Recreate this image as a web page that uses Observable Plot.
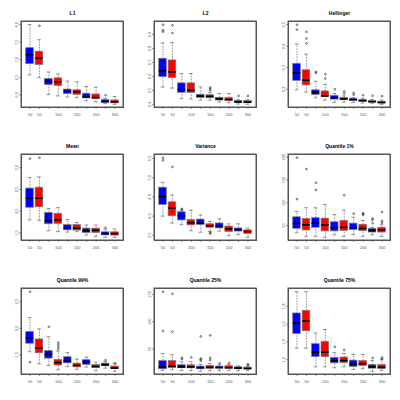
<!DOCTYPE html>
<html><head><meta charset="utf-8">
<script src="https://cdn.jsdelivr.net/npm/d3@7"></script>
<script src="https://cdn.jsdelivr.net/npm/@observablehq/plot@0.6"></script>
<style>
html,body{margin:0;padding:0;background:#fff;}
#grid{display:grid;grid-template-columns:repeat(3,133.333px);grid-template-rows:repeat(3,133.333px);width:400px;height:400px;}
#grid svg{display:block;}
</style></head><body><div id="grid"></div>
<script>
// x categories (sample sizes), two series each
const xLabels = ["50","50","100","100","150","150","200","200","300","300"];
const xShown  = [true,true,false,true,false,true,false,true,false,true];
const seriesOf = [0,1,0,1,0,1,0,1,0,1];
const seriesColors = ["#0000ff","#ff0000"];

// five-number summaries per box: [lower whisker, Q1, median, Q3, upper whisker]
const l1Stats = [[6.57,6.875,7.14,7.33,8.0],[6.49,6.85,7.05,7.23,7.57],[6.01,6.28,6.38,6.45,6.65],[5.97,6.25,6.37,6.47,6.59],[5.94,6.02,6.10,6.15,6.39],[5.92,6.00,6.09,6.13,6.37],[5.83,5.90,5.94,6.03,6.24],[5.80,5.88,5.92,6.01,6.22],[5.75,5.77,5.81,5.85,5.90],[5.73,5.76,5.80,5.84,5.95]];
const l1Out = [[1,7.97],[8,5.99]];
const l1Ticks = [6.0,6.5,7.0,7.5,8.0];

const l2Stats = [[0.523,0.595,0.64,0.726,0.84],[0.516,0.588,0.632,0.714,0.842],[0.44,0.482,0.506,0.55,0.62],[0.438,0.482,0.50,0.55,0.62],[0.43,0.446,0.458,0.468,0.525],[0.43,0.444,0.456,0.465,0.485],[0.417,0.427,0.44,0.446,0.477],[0.412,0.425,0.434,0.444,0.477],[0.402,0.41,0.417,0.425,0.432],[0.40,0.408,0.415,0.424,0.432]];
const l2Out = [[0,0.97],[0,0.93],[0,0.92],[1,0.965],[1,0.91],[5,0.52],[5,0.51],[5,0.50],[8,0.46],[9,0.46]];
const l2Ticks = [0.4,0.5,0.6,0.7,0.8,0.9];

const helStats = [[0.197,0.239,0.276,0.318,0.41],[0.187,0.218,0.242,0.288,0.363],[0.16,0.173,0.186,0.195,0.237],[0.149,0.164,0.169,0.19,0.223],[0.139,0.152,0.161,0.169,0.18],[0.14,0.149,0.155,0.16,0.169],[0.138,0.145,0.152,0.156,0.161],[0.136,0.142,0.147,0.15,0.158],[0.135,0.139,0.142,0.145,0.152],[0.13,0.135,0.138,0.142,0.149]];
const helOut = [[0,0.5],[0,0.477],[1,0.467],[1,0.436],[1,0.413],[2,0.281],[2,0.276],[3,0.27],[3,0.25],[4,0.2],[5,0.19],[5,0.18],[6,0.183],[6,0.175],[7,0.172],[8,0.17],[9,0.168]];
const helTicks = [0.2,0.3,0.4,0.5];

const meanStats = [[1.80,2.08,2.30,2.52,2.775],[1.79,2.09,2.30,2.54,2.79],[1.55,1.70,1.78,1.96,2.06],[1.53,1.71,1.80,1.94,2.08],[1.52,1.56,1.62,1.68,1.81],[1.53,1.555,1.61,1.68,1.74],[1.45,1.50,1.55,1.60,1.68],[1.42,1.50,1.56,1.60,1.68],[1.40,1.445,1.485,1.515,1.585],[1.40,1.44,1.485,1.515,1.59]];
const meanOut = [[0,3.21],[1,3.23],[8,1.62]];
const meanTicks = [1.5,2.0,2.5,3.0];

const varStats = [[4.0,4.29,4.51,4.74,4.88],[3.82,4.0,4.21,4.36,4.55],[3.78,3.89,4.01,4.10,4.14],[3.62,3.76,3.83,3.90,4.15],[3.58,3.77,3.82,3.91,4.03],[3.60,3.70,3.75,3.79,3.86],[3.61,3.68,3.74,3.81,3.93],[3.49,3.59,3.67,3.73,3.80],[3.52,3.60,3.65,3.68,3.80],[3.45,3.54,3.60,3.63,3.69]];
const varOut = [[0,5.52],[0,5.45],[1,5.28],[2,4.19],[2,4.17],[5,3.57],[5,3.55]];
const varTicks = [3.5,4.0,4.5,5.0,5.5];

const q1Stats = [[34,42.7,54.5,68,81],[26,39,51.5,64,89],[26,45,55,66,89],[24,37,51,65,96],[29.5,37,45,57,74],[26,38,46,60,84],[30,40,45,54,68],[26,37.5,43.5,51.5,61],[29.5,34.5,39,42.7,46],[26,34.5,40.5,45,51.5]];
const q1Out = [[0,199],[0,108],[1,174],[2,144],[2,128],[5,116.5],[6,76],[7,77],[7,75.5],[7,73],[8,65],[8,62.6],[8,55],[9,79.6],[9,60],[9,56]];
const q1Ticks = [50,100,150,200];

const q99Stats = [[1.56,1.71,1.82,1.93,2.20],[1.33,1.53,1.63,1.79,1.99],[1.30,1.43,1.51,1.57,1.84],[1.22,1.30,1.355,1.405,1.57],[1.28,1.34,1.38,1.455,1.54],[1.23,1.265,1.30,1.335,1.42],[1.27,1.31,1.37,1.40,1.455],[1.20,1.25,1.28,1.31,1.36],[1.25,1.29,1.31,1.335,1.37],[1.19,1.235,1.25,1.28,1.335]];
const q99Out = [[0,2.69],[0,1.36],[2,2.03],[3,1.73],[3,1.69],[3,1.65],[3,1.61],[8,1.40],[9,1.34]];
const q99Ticks = [1.5,2.0,2.5];

const q25Stats = [[11,13,17.3,28,42],[12,15,18.6,28,39.5],[10.6,15,17.3,20.4,26.6],[10.6,14.7,17.3,20.4,26.6],[9.3,13,16,18,22],[10.6,13.6,16.7,19,23.5],[10.6,14.5,16,18,21],[10.6,13.6,16,18.6,21.6],[10.6,13,15,16.7,19.2],[10.6,12.6,14.5,16,18.6]];
const q25Out = [[0,155],[0,83],[1,151],[1,82],[2,34],[2,31.5],[3,34.6],[4,73],[4,32.7],[4,31],[4,28.4],[5,75],[5,34],[5,30],[6,24],[7,24.7],[9,22.3],[9,20.4]];
const q25Ticks = [50,100,150];

const q75Stats = [[1.33,1.49,1.61,1.72,1.965],[1.33,1.52,1.635,1.75,1.965],[1.12,1.23,1.285,1.375,1.50],[1.12,1.23,1.285,1.40,1.54],[1.11,1.16,1.19,1.22,1.28],[1.12,1.165,1.19,1.225,1.27],[1.09,1.12,1.15,1.19,1.26],[1.10,1.13,1.155,1.185,1.26],[1.07,1.10,1.12,1.14,1.19],[1.08,1.095,1.115,1.14,1.20]];
const q75Out = [[4,1.345],[5,1.31],[8,1.22],[9,1.225],[9,1.21]];
const q75Ticks = [1.2,1.4,1.6,1.8];

const titles = ["L1","L2","Hellinger","Mean","Variance","Quantile 1%","Quantile 99%","Quantile 25%","Quantile 75%"];
const panels = [
  {stats:l1Stats,out:l1Out,ticks:l1Ticks,fmt:".1f"},
  {stats:l2Stats,out:l2Out,ticks:l2Ticks,fmt:".1f"},
  {stats:helStats,out:helOut,ticks:helTicks,fmt:".1f"},
  {stats:meanStats,out:meanOut,ticks:meanTicks,fmt:".1f"},
  {stats:varStats,out:varOut,ticks:varTicks,fmt:".1f"},
  {stats:q1Stats,out:q1Out,ticks:q1Ticks,fmt:"d"},
  {stats:q99Stats,out:q99Out,ticks:q99Ticks,fmt:".1f"},
  {stats:q25Stats,out:q25Out,ticks:q25Ticks,fmt:"d"},
  {stats:q75Stats,out:q75Out,ticks:q75Ticks,fmt:".1f"}
];

const FONT = "'Liberation Sans', Arial, Helvetica, sans-serif";
const W = 133, H = 133, ML = 21, MR = 10, MT = 21, MB = 26;
const FW = W - ML - MR, FH = H - MT - MB;
const BOXW = 0.8; // R boxwex

function makePanel(p, title) {
  const pos = p.stats.map((s, i) => i + 1);
  const rows = p.stats.map((s, i) => ({pos: pos[i], lo: s[0], q1: s[1], med: s[2], q3: s[3], hi: s[4], g: seriesOf[i]}));
  const outs = p.out.map(([i, v]) => ({pos: pos[i], v}));
  const vals = [...p.stats.flat(), ...p.out.map(d => d[1])];
  const [mn, mx] = d3.extent(vals);
  const yPad = (mx - mn) * 0.04;
  const yDom = [mn - yPad, mx + yPad];
  const xa = d3.min(pos) - 0.5, xb = d3.max(pos) + 0.5, xPad = (xb - xa) * 0.04;
  const xDom = [xa - xPad, xb + xPad];
  const f = d3.format(p.fmt);
  const wc = "#666";
  return Plot.plot({
    width: W, height: H, marginLeft: ML, marginRight: MR, marginTop: MT, marginBottom: MB,
    style: {fontFamily: FONT, fontSize: "4px", color: "#555", background: "#fff"},
    x: {domain: xDom, axis: null},
    y: {domain: yDom, axis: null},
    color: {domain: [0, 1], range: seriesColors},
    marks: [
      // x axis ticks and labels
      Plot.ruleX(pos, {x: d => d, insetTop: FH, insetBottom: -2, stroke: "#666", strokeWidth: 0.7}),
      Plot.text(pos.filter((d, i) => xShown[i]), {x: d => d, text: d => xLabels[d - 1], frameAnchor: "bottom", dy: 6.8,
        lineAnchor: "middle", fontSize: 4, fill: "#555"}),
      // y axis ticks and labels
      Plot.ruleY(p.ticks, {y: d => d, insetLeft: -2, insetRight: FW, stroke: "#666", strokeWidth: 0.7}),
      Plot.text(p.ticks, {y: d => d, text: d => f(d), frameAnchor: "left", dx: -5, rotate: -90,
        textAnchor: "middle", lineAnchor: "middle", fontSize: 4, fill: "#555"}),
      // whiskers and caps
      Plot.ruleX(rows, {x: "pos", y1: "q3", y2: "hi", stroke: wc, strokeWidth: 0.7, strokeDasharray: "1.6,1.1"}),
      Plot.ruleX(rows, {x: "pos", y1: "lo", y2: "q1", stroke: wc, strokeWidth: 0.7, strokeDasharray: "1.6,1.1"}),
      Plot.ruleY(rows, {y: "hi", x1: d => d.pos - BOXW / 4, x2: d => d.pos + BOXW / 4, stroke: wc, strokeWidth: 0.7}),
      Plot.ruleY(rows, {y: "lo", x1: d => d.pos - BOXW / 4, x2: d => d.pos + BOXW / 4, stroke: wc, strokeWidth: 0.7}),
      // boxes and medians
      Plot.rect(rows, {x1: d => d.pos - BOXW / 2, x2: d => d.pos + BOXW / 2, y1: "q1", y2: "q3", fill: "g", stroke: "#777", strokeWidth: 0.7}),
      Plot.ruleY(rows, {y: "med", x1: d => d.pos - BOXW / 2, x2: d => d.pos + BOXW / 2, stroke: "#000", strokeWidth: 1.6}),
      // outliers
      Plot.dot(outs, {x: "pos", y: "v", r: 0.9, stroke: "#222", strokeWidth: 0.6}),
      // plot box, from the scale domains
      Plot.rect([xDom], {x1: d => d[0], x2: d => d[1], y1: () => yDom[0], y2: () => yDom[1],
        fill: "none", stroke: "#555", strokeWidth: 1}),
      Plot.frame({stroke: "#555", strokeWidth: 1}),
      Plot.text([title], {frameAnchor: "top", dy: -10, fontWeight: "bold", fontSize: 5, fill: "#000"})
    ]
  });
}

const grid = document.getElementById("grid");
panels.forEach((p, k) => {
  const div = document.createElement("div");
  div.appendChild(makePanel(p, titles[k]));
  grid.appendChild(div);
});
</script></body></html>
